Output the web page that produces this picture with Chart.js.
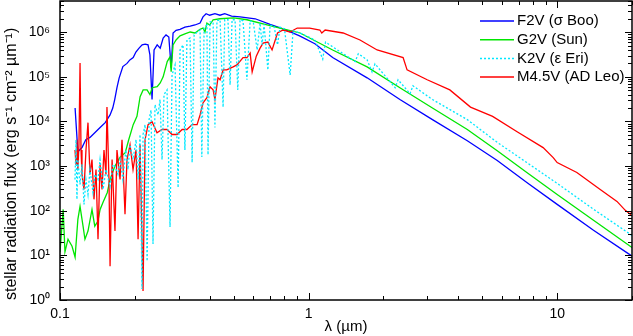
<!DOCTYPE html>
<html>
<head>
<meta charset="utf-8">
<script src="https://cdn.jsdelivr.net/npm/chart.js@4.4.1/dist/chart.umd.min.js"></script>
<style>
  html, body { margin: 0; padding: 0; background: #fff; }
  #wrap { width: 633px; height: 336px; }
</style>
</head>
<body>
<div id="wrap"><canvas id="spectra"></canvas></div>
<script>
// [wavelength (um), flux (erg s-1 cm-2 um-1)]
var f2vSpectrum = [
  [0.115,2.0e4],[0.118,2.1e3],[0.1226,2.6e3],[0.127,3.9e3],[0.132,4.4e3],[0.138,5.6e3],[0.145,7.3e3],
  [0.152,9.4e3],[0.159,1.4e4],[0.163,2.0e4],[0.166,3.1e4],[0.1695,5.7e4],[0.173,9.5e4],[0.179,1.7e5],
  [0.186,2.0e5],[0.191,2.4e5],[0.197,2.7e5],[0.202,3.6e5],[0.208,4.4e5],[0.214,5.2e5],[0.22,5.4e5],
  [0.226,5.2e5],[0.23,3.1e5],[0.2346,3.1e4],[0.239,4.0e5],[0.246,5.2e5],[0.253,4.4e5],[0.26,7.4e5],
  [0.267,8.7e5],[0.274,7.8e5],[0.28,1.6e5],[0.285,9.6e5],[0.293,1.1e6],[0.304,1.16e6],[0.318,1.3e6],
  [0.334,1.37e6],[0.349,1.45e6],[0.366,1.6e6],[0.376,2.2e6],[0.387,2.6e6],[0.40,2.4e6],[0.42,2.6e6],
  [0.44,2.4e6],[0.46,2.6e6],[0.49,2.3e6],[0.53,2.2e6],[0.61,2.0e6],[0.70,1.5e6],[0.80,1.16e6],
  [0.92,8.3e5],[1.06,5.5e5],[1.25,2.7e5],[1.72,9.5e4],[2.33,3.1e4],[3.15,1.1e4],[4.35,3.7e3],
  [5.74,1.33e3],[7.55,430],[10,139],[14,36.5],[20,9.6]
];
var g2vSpectrum = [
  [0.100,11.8],[0.103,107],[0.1047,12],[0.1077,23],[0.1118,16],[0.115,9.1],[0.118,64],[0.1204,125],
  [0.1238,45],[0.126,23],[0.1296,35],[0.1345,107],[0.138,45],[0.142,58],[0.145,107],[0.149,155],
  [0.155,257],[0.159,500],[0.166,980],[0.174,1.55e3],[0.183,2.0e3],[0.189,3.9e3],[0.197,8.5e3],
  [0.204,1.3e4],[0.210,3.6e4],[0.216,5.1e4],[0.224,5.1e4],[0.230,4.0e4],[0.235,5.7e4],[0.246,6.0e4],
  [0.253,7.3e4],[0.260,1.0e5],[0.270,2.2e5],[0.277,2.8e5],[0.280,1.3e5],[0.285,5.2e5],[0.293,6.7e5],
  [0.304,8.3e5],[0.318,9.2e5],[0.334,1.01e6],[0.349,9.6e5],[0.366,1.16e6],[0.376,1.24e6],[0.383,1.01e6],
  [0.390,1.6e6],[0.40,1.45e6],[0.413,1.9e6],[0.44,2.0e6],[0.50,2.1e6],[0.565,1.9e6],[0.668,1.5e6],
  [0.768,1.24e6],[0.924,9.6e5],[1.25,4.0e5],[1.72,1.67e5],[2.33,5.7e4],[3.15,2.0e4],[4.35,6.6e3],
  [5.74,2.2e3],[7.55,720],[10,232],[14,61],[20,15]
];
var k2vSpectrum = [
  [0.1149,500],[0.116,3.9e3],[0.117,180],[0.118,1.4e3],[0.1204,390],[0.1226,1.09e3],[0.1249,138],
  [0.1272,500],[0.1296,232],[0.132,840],[0.1357,257],[0.1383,650],[0.1422,500],[0.1449,1.4e3],
  [0.149,300],[0.1531,840],[0.159,350],[0.1634,1.09e3],[0.1664,980],[0.171,650],[0.1744,1.4e3],
  [0.179,500],[0.184,2.3e3],[0.1877,840],[0.1913,3.0e3],[0.1967,1.4e3],[0.2023,3.9e3],[0.2061,500],
  [0.2099,5.1e3],[0.2137,1.76],[0.2158,5.1e3],[0.2199,8.5e3],[0.2241,7.4],[0.2282,1.1e4],[0.2324,1.8e4],
  [0.2367,18],[0.2411,2.4e4],[0.2479,1.4e4],[0.2526,3.1e4],[0.2573,1.4e3],[0.2621,4.0e4],[0.2695,5.1e4],
  [0.2771,43],[0.2823,1.1e5],[0.2903,1.85e5],[0.2986,330],[0.304,4.0e5],[0.3126,5.2e5],[0.318,2.3e3],
  [0.3241,6.7e5],[0.3336,7.4e5],[0.340,1.2e3],[0.3464,8.7e5],[0.356,1.0e6],[0.366,1.12e6],[0.372,1.6e3],
  [0.380,1.24e6],[0.390,1.45e6],[0.394,1.8e3],[0.4015,1.7e6],[0.413,1.7e6],[0.420,7.3e3],[0.428,1.8e6],
  [0.4405,1.9e6],[0.453,2.1e4],[0.460,1.9e6],[0.474,1.9e6],[0.4833,6.6e4],[0.4923,1.9e6],[0.506,1.9e6],
  [0.519,5.1e4],[0.530,1.9e6],[0.545,1.8e6],[0.565,8.6e4],[0.582,1.8e6],[0.599,1.7e6],[0.621,4.0e5],
  [0.638,1.6e6],[0.650,5.2e5],[0.662,1.5e6],[0.686,1.43e5],[0.700,1.45e6],[0.726,1.37e6],[0.750,5.2e5],
  [0.768,1.3e6],[0.800,1.18e6],[0.843,1.1e5],[0.866,1.07e6],[0.924,9.6e5],[1.06,6.7e5],[1.14,2.5e5],
  [1.17,6.0e5],[1.25,4.7e5],[1.54,2.2e5],[1.585,3.3e5],[1.72,2.4e5],[1.80,1.29e5],[1.85,1.95e5],
  [2.23,5.7e4],[2.29,8.6e4],[2.56,4.2e4],[2.63,6.3e4],[3.15,3.1e4],[4.35,1.1e4],[5.74,3.4e3],
  [7.55,1.2e3],[10,410],[14,108],[20,28]
];
var m45vSpectrum = [
  [0.1149,2.3e3],[0.116,1.09e3],[0.117,3.9e3],[0.118,840],[0.1192,3.0e3],[0.1204,2.05e5],[0.1215,2.3e3],
  [0.1226,650],[0.1249,300],[0.1272,2.3e3],[0.1296,9.4e3],[0.132,650],[0.1345,1.4e3],[0.137,180],
  [0.1396,840],[0.1422,23],[0.1449,1.09e3],[0.1476,300],[0.1503,2.3e3],[0.1531,650],[0.1545,2.1e4],
  [0.1574,500],[0.159,5.7],[0.162,1.4e3],[0.1664,35],[0.1695,2.3e3],[0.1744,500],[0.1776,3.9e3],
  [0.1826,83],[0.186,1.4e3],[0.1913,3.0e3],[0.1967,840],[0.2023,2.3e3],[0.2061,23],[0.2099,3.0e3],
  [0.2158,1.6],[0.2199,3.9e3],[0.2261,8.5e3],[0.2346,9.9e3],[0.2456,5.6e3],[0.2573,6.6e3],[0.2695,6.6e3],
  [0.2823,5.1e3],[0.2957,5.1e3],[0.31,6.6e3],[0.324,6.6e3],[0.340,8.5e3],[0.356,8.5e3],[0.366,1.4e4],
  [0.376,2.6e4],[0.39,3.4e4],[0.4015,6.0e4],[0.413,5.1e4],[0.42,3.1e4],[0.432,9.5e4],[0.4405,8.6e4],
  [0.453,1.43e5],[0.4686,1.43e5],[0.497,1.67e5],[0.515,1.85e5],[0.545,2.7e5],[0.565,2.7e5],[0.582,3.4e5],
  [0.593,1.29e5],[0.616,2.9e5],[0.638,4.4e5],[0.656,5.7e5],[0.686,6.0e5],[0.713,4.0e5],[0.75,9.6e5],
  [0.789,1.12e6],[0.843,1.01e6],[0.90,1.24e6],[1.01,1.24e6],[1.11,1.12e6],[1.13,9.6e5],[1.166,1.12e6],
  [1.377,9.6e5],[1.61,6.7e5],[1.887,4.0e5],[2.40,2.7e5],[2.49,1.43e5],[3.0,8.6e4],[3.7,5.1e4],
  [4.48,2.1e4],[5.5,1.3e4],[6.9,5.9e3],[8.78,2.6e3],[9.64,1.55e3],[10,1.2e3],[12,720],[14.9,300],
  [17.4,162],[18.8,102],[19.7,83],[20,97]
];

var seriesLabels = ["F2V (\u03c3 Boo)", "G2V (Sun)", "K2V (\u03b5 Eri)", "M4.5V (AD Leo)"];
var xTickValues = [0.1, 1, 10];
var xTickLabels = ["0.1", "1", "10"];
var yTickValues = [1, 10, 100, 1e3, 1e4, 1e5, 1e6];
var yTickLabels = ["10\u2070", "10\u00b9", "10\u00b2", "10\u00b3", "10\u2074", "10\u2075", "10\u2076"];

Chart.defaults.font.family = "'Liberation Sans', Arial, sans-serif";
Chart.defaults.color = "#000";

function toPoints(pairs) {
  return pairs.map(function(p) { return {x: p[0], y: p[1]}; });
}

// box round the plot with inward major/minor ticks on all four sides
var axisFrame = {
  id: "axisFrame",
  afterDraw: function(chart) {
    var ctx = chart.ctx, a = chart.chartArea;
    var xs = chart.scales.x, ys = chart.scales.y;
    ctx.save();
    ctx.strokeStyle = "#000";
    ctx.lineWidth = 1;
    ctx.beginPath();
    for (var d = -1; d <= 1; d++) {
      for (var m = 1; m <= 9; m++) {
        var v = m * Math.pow(10, d);
        if (v < xs.min || v > xs.max) continue;
        var px = Math.round(xs.getPixelForValue(v)) + 0.5;
        var len = m === 1 ? 7 : 4;
        ctx.moveTo(px, a.bottom); ctx.lineTo(px, a.bottom - len);
        ctx.moveTo(px, a.top); ctx.lineTo(px, a.top + len);
      }
    }
    for (var e = 0; e <= 6; e++) {
      for (var k = 1; k <= 9; k++) {
        var w = k * Math.pow(10, e);
        if (w < ys.min || w > ys.max) continue;
        var py = Math.round(ys.getPixelForValue(w)) + 0.5;
        var l = k === 1 ? 7 : 4;
        ctx.moveTo(a.left, py); ctx.lineTo(a.left + l, py);
        ctx.moveTo(a.right, py); ctx.lineTo(a.right - l, py);
      }
    }
    ctx.stroke();
    ctx.lineWidth = 1.5;
    ctx.strokeRect(a.left, a.top, a.right - a.left, a.bottom - a.top);
    ctx.restore();
  }
};

// legend drawn inside the plot, top right
var insideLegend = {
  id: "insideLegend",
  afterDraw: function(chart) {
    var ctx = chart.ctx, a = chart.chartArea;
    ctx.save();
    ctx.font = "15px 'Liberation Sans', Arial, sans-serif";
    ctx.textBaseline = "middle";
    chart.data.datasets.forEach(function(ds, i) {
      var y = a.top + 20 + i * 18.7;
      var x = a.right - 152;
      ctx.beginPath();
      ctx.strokeStyle = ds.borderColor;
      ctx.lineWidth = 1.5;
      ctx.setLineDash(ds.borderDash || []);
      ctx.moveTo(x, y);
      ctx.lineTo(x + 34, y);
      ctx.stroke();
      ctx.setLineDash([]);
      ctx.fillStyle = "#000";
      ctx.fillText(ds.label, x + 37, y);
    });
    ctx.restore();
  }
};

new Chart(document.getElementById("spectra"), {
  type: "scatter",
  data: {
    datasets: [{
        label: seriesLabels[0],
        data: toPoints(f2vSpectrum),
        borderColor: "#0000ff",
        showLine: true,
        order: 3
      }, {
        label: seriesLabels[1],
        data: toPoints(g2vSpectrum),
        borderColor: "#00e600",
        showLine: true,
        order: 2
      }, {
        label: seriesLabels[2],
        data: toPoints(k2vSpectrum),
        borderColor: "#00e8ff",
        borderDash: [2, 2],
        showLine: true,
        order: 0
      }, {
        label: seriesLabels[3],
        data: toPoints(m45vSpectrum),
        borderColor: "#ff0000",
        showLine: true,
        order: 1
      }
    ]
  },
  options: {
    responsive: true,
    maintainAspectRatio: false,
    animation: false,
    layout: { padding: { top: 1, right: 1, left: 0, bottom: 0 } },
    elements: {
      point: { radius: 0, hoverRadius: 0 },
      line: { borderWidth: 1.3, tension: 0, fill: false }
    },
    plugins: {
      legend: { display: false },
      tooltip: { enabled: false }
    },
    scales: {
      x: {
        type: "logarithmic",
        min: 0.1,
        max: 20,
        grid: { display: false, drawTicks: false },
        border: { display: false },
        afterBuildTicks: function(s) {
          s.ticks = xTickValues.map(function(v) { return {value: v}; });
        },
        afterFit: function(s) {
          s.height = 36;
          s.paddingLeft = 0;
          s.paddingRight = 0;
        },
        ticks: {
          autoSkip: false,
          maxRotation: 0,
          padding: 6,
          font: { size: 14 },
          callback: function(v) { return xTickLabels[xTickValues.indexOf(v)]; }
        },
        title: {
          display: true,
          text: "\u03bb (\u00b5m)",
          font: { size: 15 },
          padding: { top: 0, bottom: 0 }
        }
      },
      y: {
        type: "logarithmic",
        min: 1,
        max: 5e6,
        grid: { display: false, drawTicks: false },
        border: { display: false },
        afterBuildTicks: function(s) {
          s.ticks = yTickValues.map(function(v) { return {value: v}; });
        },
        afterFit: function(s) {
          s.width = 60;
          s.paddingTop = 0;
          s.paddingBottom = 0;
        },
        ticks: {
          autoSkip: false,
          padding: 10,
          font: { size: 14 },
          callback: function(v) { return yTickLabels[yTickValues.indexOf(v)]; }
        },
        title: {
          display: true,
          align: "start",
          text: "stellar radiation flux (erg s\u207b\u00b9 cm\u207b\u00b2 \u00b5m\u207b\u00b9)",
          font: { size: 16 },
          padding: { top: 2, bottom: 0 }
        }
      }
    }
  },
  plugins: [axisFrame, insideLegend]
});
</script>
</body>
</html>
